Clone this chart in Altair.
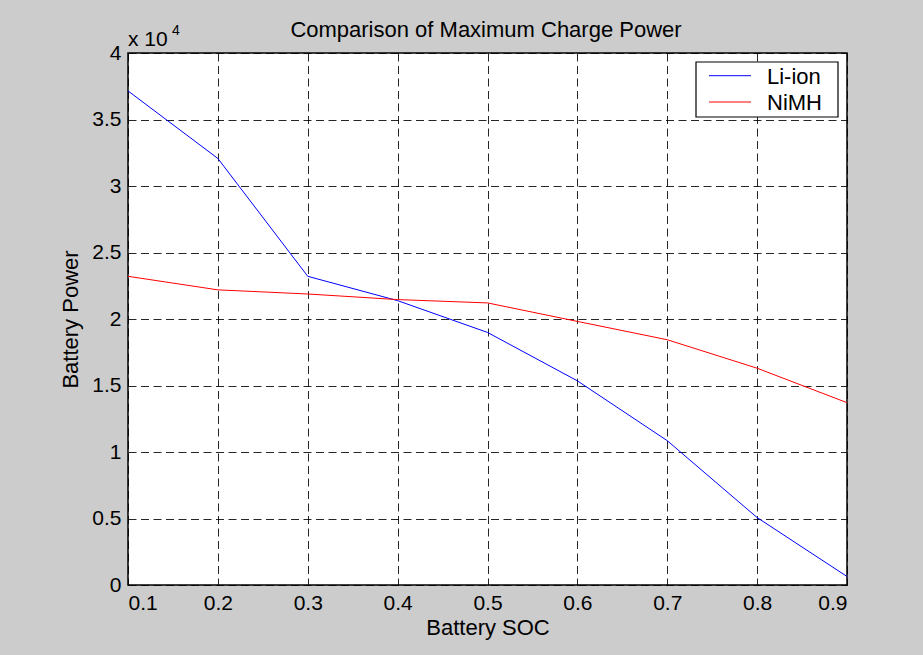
import altair as alt
import pandas as pd

soc = [0.1, 0.2, 0.3, 0.4, 0.5, 0.6, 0.7, 0.8, 0.9]
li_ion = [37150, 32070, 23210, 21380, 18990, 15350, 10850, 5070, 640]
nimh = [23210, 22190, 21880, 21460, 21210, 19820, 18440, 16300, 13710]
series = ["Li-ion", "NiMH"]
colors = ["#0000ff", "#ff0000"]
x_ticks = [0.1, 0.2, 0.3, 0.4, 0.5, 0.6, 0.7, 0.8, 0.9]
y_ticks = [0, 5000, 10000, 15000, 20000, 25000, 30000, 35000, 40000]
title_text = ["Comparison of Maximum Charge Power"]

rows = []
for name, vals in zip(series, [li_ion, nimh]):
    for s, v in zip(soc, vals):
        rows.append({"soc": s, "power": v, "series": name})
df = pd.DataFrame(rows)

FONT = "Liberation Sans"
W, H = 719, 532

lines = alt.Chart(df).mark_line(strokeWidth=1, clip=True).encode(
    x=alt.X("soc:Q",
            scale=alt.Scale(domain=[0.1, 0.9], nice=False, zero=False),
            axis=alt.Axis(values=x_ticks, format=".1f", title="Battery SOC",
                          titleY=49, titleBaseline="alphabetic",
                          titleAnchor="middle")),
    y=alt.Y("power:Q",
            scale=alt.Scale(domain=[0, 40000], nice=False),
            axis=alt.Axis(values=y_ticks, labelExpr="toString(datum.value / 10000)",
                          title="Battery Power", titleX=-51,
                          titleBaseline="alphabetic", titleAngle=-90,
                          titleAnchor="middle")),
    color=alt.Color("series:N",
                    scale=alt.Scale(domain=series, range=colors),
                    legend=None),
    detail="series:N",
)

title_mark = alt.Chart(pd.DataFrame({"t": title_text})).mark_text(
    font=FONT, fontSize=22, align="center", baseline="alphabetic", color="black"
).encode(text="t:N", x=alt.value(358), y=alt.value(-16))

exp_df = pd.DataFrame({"t": ["x 10"]})
exp_txt = alt.Chart(exp_df).mark_text(
    font=FONT, fontSize=21, align="left", baseline="alphabetic", color="black"
).encode(text="t:N", x=alt.value(0), y=alt.value(-7))

sup_df = pd.DataFrame({"t": ["4"]})
sup_txt = alt.Chart(sup_df).mark_text(
    font=FONT, fontSize=14, align="left", baseline="alphabetic", color="black"
).encode(text="t:N", x=alt.value(44), y=alt.value(-18))

# legend drawn as annotation (box, sample lines, labels)
box_df = pd.DataFrame({"k": [0]})
legend_box = alt.Chart(box_df).mark_rect(
    fill="white", stroke="black", strokeWidth=1.2
).encode(x=alt.value(568), x2=alt.value(710), y=alt.value(9), y2=alt.value(64))

legend_layers = []
row_line_y = [22.7, 49]
row_text_y = [31.3, 56.5]
for i, name in enumerate(series):
    d = pd.DataFrame({"series": [name]})
    legend_layers.append(
        alt.Chart(d).mark_rule(strokeWidth=1).encode(
            x=alt.value(581), x2=alt.value(623), y=alt.value(row_line_y[i]),
            color=alt.Color("series:N", scale=alt.Scale(domain=series, range=colors),
                            legend=None),
        )
    )
    legend_layers.append(
        alt.Chart(d).mark_text(
            font=FONT, fontSize=22, align="left", baseline="alphabetic", color="black"
        ).encode(text="series:N", x=alt.value(639), y=alt.value(row_text_y[i]))
    )

chart = alt.layer(lines, title_mark, exp_txt, sup_txt, legend_box, *legend_layers).properties(
    width=W, height=H,
    autosize=alt.AutoSizeParams(type="none"),
    padding={"left": 128, "top": 53, "right": 76, "bottom": 70},
    background="#cccccc",
).configure_view(
    fill="white", stroke="black", strokeWidth=1.5
).configure_axis(
    domain=False, ticks=False, grid=True, gridColor="black", gridOpacity=0.85,
    gridDash=[8, 4.5], gridWidth=1,
    labelFont=FONT, labelFontSize=21, labelColor="black",
    titleFont=FONT, titleFontSize=22, titleColor="black", titleFontWeight="normal",
    labelOverlap=False,
).configure_axisX(
    labelPadding=7
).configure_axisY(
    labelPadding=7
)

chart.save("out.html", embed_options={"renderer": "svg", "actions": False})
